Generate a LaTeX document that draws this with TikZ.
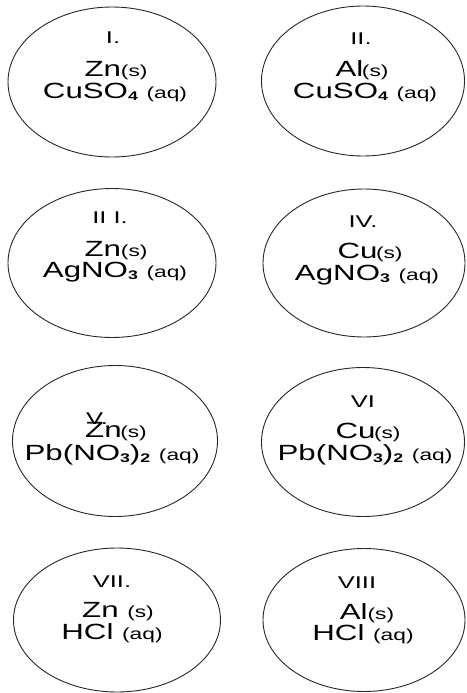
\documentclass[tikz,border=0pt]{standalone}
\usepackage{fontspec}
\setmainfont{Liberation Sans}
\usetikzlibrary{shapes.geometric}

% text helpers: wide sans lettering, small state symbols, bold subscripts
\newcommand\wide[1]{\scalebox{1.42}[1]{#1}}
\newcommand\st[1]{{\fontsize{16}{16}\selectfont #1}}
\newcommand\ix[1]{\raisebox{-2pt}{\fontsize{12.5}{12.5}\selectfont\bfseries #1}}
\newcommand\num[1]{\scalebox{1.5}[1]{#1}}

\begin{document}
\begin{tikzpicture}[x=1pt,y=-1pt,
  tube/.style={ellipse, draw=black!85, line width=0.9pt, inner sep=0pt,
               minimum width=#1},
  tag/.style={inner sep=0pt, font=\fontsize{17}{17}\selectfont},
  chem/.style={inner sep=0pt, anchor=base, font=\fontsize{22}{22}\selectfont}]
\useasboundingbox (0,0) rectangle (466,693);

% eight reaction vessels
\node[tube=208pt, minimum height=150pt] (e1) at (112,82)  {};
\node[tube=203pt, minimum height=150pt] (e2) at (363,81)  {};
\node[tube=208pt, minimum height=149pt] (e3) at (112,263) {};
\node[tube=202pt, minimum height=148pt] (e4) at (364,263) {};
\node[tube=205pt, minimum height=151pt] (e5) at (115,441) {};
\node[tube=203pt, minimum height=149pt] (e6) at (363,442) {};
\node[tube=207pt, minimum height=144pt] (e7) at (117,620) {};
\node[tube=202pt, minimum height=143pt] (e8) at (364,620) {};

% I
\node[tag]  (t1) at (113,38) {\num{I.}};
\node[chem] (m1) at (116,76) {\wide{Zn\st{(s)}}};
\node[chem] (s1) at (115,98) {\wide{CuSO\ix{4} \st{(aq)}}};
% II
\node[tag]  (t2) at (361,39) {\num{II.}};
\node[chem] (m2) at (362,77) {\wide{Al\kern-1pt\st{(s)}}};
\node[chem] (s2) at (365,98) {\wide{CuSO\ix{4} \st{(aq)}}};
% III
\node[tag]  (t3) at (110,218) {\num{II I.}};
\node[chem] (m3) at (116,256) {\wide{Zn\st{(s)}}};
\node[chem] (s3) at (115,277) {\wide{AgNO\ix{3} \st{(aq)}}};
% IV
\node[tag]  (t4) at (363,222) {\num{IV.}};
\node[chem] (m4) at (370,258) {\wide{Cu\kern-1pt\st{(s)}}};
\node[chem] (s4) at (367,280) {\wide{AgNO\ix{3} \st{(aq)}}};
% V
\node[tag]  (t5) at (97,419) {\num{V.}};
\node[chem] (m5) at (116,437) {\wide{Zn\kern-1pt\st{(s)}}};
\node[chem] (s5) at (112,460) {\wide{Pb(NO\ix{3})\ix{2} \st{(aq)}}};
% VI
\node[tag]  (t6) at (363,402) {\num{VI}};
\node[chem] (m6) at (368,438) {\wide{Cu\kern-1pt\st{(s)}}};
\node[chem] (s6) at (365,460) {\wide{Pb(NO\ix{3})\ix{2} \st{(aq)}}};
% VII
\node[tag]  (t7) at (112,582) {\num{VII.}};
\node[chem] (m7) at (118,617) {\wide{Zn \st{(s)}}};
\node[chem] (s7) at (112,639) {\wide{HCl \st{(aq)}}};
% VIII
\node[tag]  (t8) at (357,583) {\num{VIII}};
\node[chem] (m8) at (367,619) {\wide{Al\st{(s)}}};
\node[chem] (s8) at (363,640) {\wide{HCl \st{(aq)}}};
\end{tikzpicture}
\end{document}
